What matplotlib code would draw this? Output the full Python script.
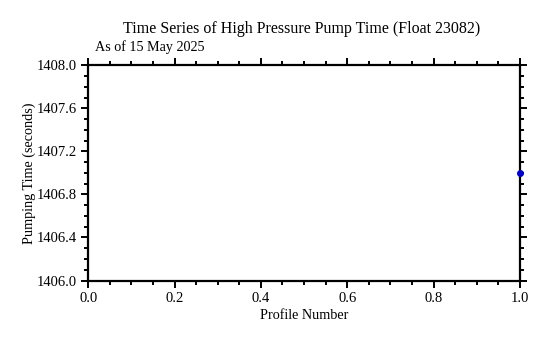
import matplotlib.pyplot as plt
from matplotlib.ticker import MultipleLocator, FormatStrFormatter

plt.rcParams['font.family'] = ['Liberation Serif', 'DejaVu Serif']

# pump time per profile
profile_number = [1]
pump_time = [1407.0]

fig = plt.figure(figsize=(5.44, 3.38), dpi=100)
ax = fig.add_axes([0.162, 0.170, 0.794, 0.637])

ax.plot(profile_number, pump_time, 'o', color='#0000cc', markersize=4, clip_on=False, zorder=5)

ax.set_xlim(0.0, 1.0)
ax.set_ylim(1406.0, 1408.0)
ax.xaxis.set_major_locator(MultipleLocator(0.2))
ax.xaxis.set_minor_locator(MultipleLocator(0.05))
ax.yaxis.set_major_locator(MultipleLocator(0.4))
ax.yaxis.set_minor_locator(MultipleLocator(0.1))
ax.xaxis.set_major_formatter(FormatStrFormatter('%.1f'))
ax.yaxis.set_major_formatter(FormatStrFormatter('%.1f'))

for s in ax.spines.values():
    s.set_linewidth(1.6)
ax.tick_params(which='both', direction='out', top=True, right=True, labelsize=10.5, width=1.4)
ax.tick_params(which='major', length=5, pad=3)
ax.tick_params(which='minor', length=3)

ax.set_xlabel('Profile Number', fontsize=10.2, labelpad=3)
ax.set_ylabel('Pumping Time (seconds)', fontsize=10.2, labelpad=1)

fig.text(0.555, 0.915, 'Time Series of High Pressure Pump Time (Float 23082)', ha='center', va='center', fontsize=11.5)
ax.text(0.015, 1.05, 'As of 15 May 2025', transform=ax.transAxes, ha='left', va='bottom', fontsize=10.2)

fig.savefig('out.png', dpi=100)
